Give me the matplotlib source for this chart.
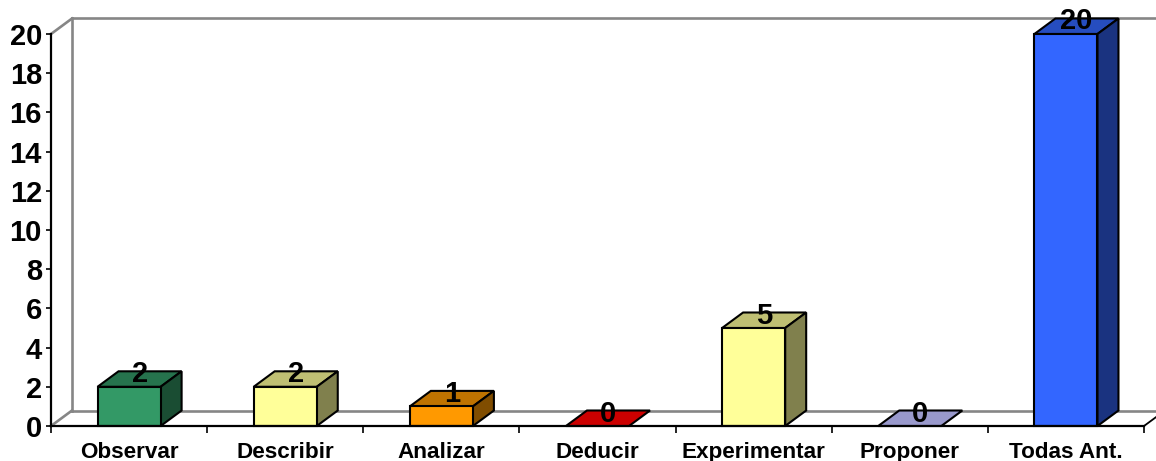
import matplotlib
matplotlib.use("Agg")
import matplotlib.pyplot as plt
from matplotlib.colors import to_rgb
from matplotlib.patches import Polygon

plt.rcParams["font.family"] = ["Liberation Sans", "DejaVu Sans"]

categories = ["Observar", "Describir", "Analizar", "Deducir",
              "Experimentar", "Proponer", "Todas Ant."]
values = [2, 2, 1, 0, 5, 0, 20]
colors = ["#339966", "#FFFF99", "#FF9900", "#CC0000",
          "#FFFF99", "#9999CC", "#3366FF"]
y_ticks = list(range(0, 21, 2))

W, H = 1156, 461
LEFT, RIGHT, TOP, BOTTOM = 51, 1144, 34, 426

# fake 3d depth, in data units
DX = 21 / ((RIGHT - LEFT) / len(categories))
DY = 15.5 / ((BOTTOM - TOP) / 20)
BAR_W = 0.404


def shade(color, f):
    return tuple(c * f for c in to_rgb(color))


def draw_bar(ax, x, v, color):
    x0, x1 = x - BAR_W / 2, x + BAR_W / 2
    style = dict(edgecolor="black", linewidth=1.5, joinstyle="miter",
                 clip_on=False, zorder=4)
    top = [(x0, v), (x1, v), (x1 + DX, v + DY), (x0 + DX, v + DY)]
    ax.add_patch(Polygon(top, facecolor=shade(color, 0.75) if v > 0 else color, **style))
    if v > 0:
        side = [(x1, 0), (x1 + DX, DY), (x1 + DX, v + DY), (x1, v)]
        ax.add_patch(Polygon(side, facecolor=shade(color, 0.5), **style))
        ax.add_patch(Polygon([(x0, 0), (x1, 0), (x1, v), (x0, v)], facecolor=color, **style))


def main():
    fig = plt.figure(figsize=(W / 100, H / 100), dpi=100)
    ax = fig.add_axes([LEFT / W, 1 - BOTTOM / H, (RIGHT - LEFT) / W, (BOTTOM - TOP) / H])
    ax.set_xlim(0, len(categories))
    ax.set_ylim(0, 20)
    ax.patch.set_visible(False)

    # back wall and floor
    grey = dict(color="#868686", linewidth=1.9, clip_on=False, zorder=1)
    far = len(categories) + 0.2
    ax.plot([DX, DX], [DY, 20 + DY], **grey)
    ax.plot([DX, far], [20 + DY, 20 + DY], **grey)
    ax.plot([DX, far], [DY, DY], **grey)
    ax.plot([0, DX], [0, DY], **grey)
    ax.plot([0, DX], [20, 20 + DY], **grey)
    ax.plot([len(categories), len(categories) + DX], [0, DY],
            color="black", linewidth=1.3, clip_on=False, zorder=2)

    for spine in ["top", "right"]:
        ax.spines[spine].set_visible(False)
    for spine in ["left", "bottom"]:
        ax.spines[spine].set_linewidth(1.6)
        ax.spines[spine].set_zorder(5)

    ax.set_yticks(y_ticks)
    ax.set_yticklabels([str(t) for t in y_ticks], fontsize=21, fontweight="bold")
    ax.tick_params(axis="y", length=3.5, width=1.2, pad=3)

    ax.set_xticks(range(len(categories) + 1))
    ax.set_xticklabels([])
    ax.tick_params(axis="x", length=5, width=1.2)

    for i, name in enumerate(categories):
        ax.annotate(name, (i + 0.5, 0), xytext=(0, -26), textcoords="offset pixels",
                    ha="center", va="center", fontsize=16.2, fontweight="bold",
                    annotation_clip=False)

    for i, (v, c) in enumerate(zip(values, colors)):
        draw_bar(ax, i + 0.5, v, c)
        ax.annotate(str(v), (i + 0.5 + DX / 2, v + DY), xytext=(0, -3),
                    textcoords="offset pixels", ha="center", va="center",
                    fontsize=21, fontweight="bold", annotation_clip=False, zorder=6)

    fig.savefig("out.png", dpi=100)


if __name__ == "__main__":
    main()
